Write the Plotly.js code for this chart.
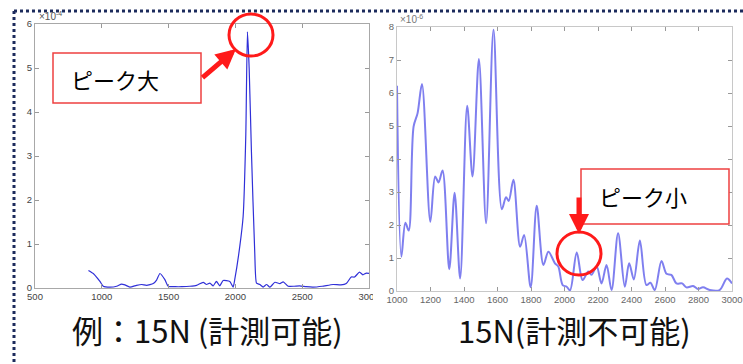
<!DOCTYPE html>
<html><head><meta charset="utf-8">
<script src="https://cdn.plot.ly/plotly-3.0.1.min.js"></script>
<style>html,body{margin:0;padding:0;background:#fff}#chart{width:743px;height:364px}</style>
</head><body><div id="chart"></div>
<script>
// Left spectrum (values in units of 1e-4)
const leftX = [900,936,986,1011,1061,1111,1148,1173,1210,1260,1298,1335,1385,1410,1435,1472,1497,1550,1600,1659,1709,1759,1784,1809,1834,1858,1883,1908,1958,1983,1995,2033,2058,2078,2090,2103,2120,2145,2158,2183,2208,2233,2258,2296,2333,2358,2396,2440,2481,2530,2581,2650,2731,2790,2830,2867,2892,2929,2954,2980,3000];
const leftY = [0.40,0.33,0.15,0.04,0.02,0.04,0.09,0.07,0.02,0.06,0.08,0.06,0.10,0.18,0.33,0.19,0.04,0.03,0.03,0.04,0.06,0.13,0.08,0.11,0.05,0.15,0.05,0.17,0.15,0.02,0.19,0.95,1.63,3.5,5.82,5.0,3.1,0.79,0.11,0.08,0.02,0.08,0.02,0.13,0.10,0.14,0.04,0.04,0.05,0.03,0.02,0.04,0.08,0.07,0.10,0.25,0.25,0.36,0.30,0.34,0.33];
// Right spectrum (values in units of 1e-6)
const rightX = [1000,1026,1050,1070,1099,1123,1149,1199,1228,1248,1272,1312,1344,1377,1419,1451,1489,1532,1576,1626,1651,1667,1695,1735,1759,1798,1834,1874,1904,1943,1963,1989,2013,2033,2073,2108,2142,2161,2192,2221,2251,2281,2320,2360,2386,2414,2450,2489,2513,2539,2579,2609,2638,2668,2702,2728,2768,2797,2827,2867,2926,2970,3000];
const rightY = [6.22,1.04,2.07,1.83,4.98,5.39,6.27,2.10,3.47,3.29,3.65,0.66,2.98,0.38,5.61,3.47,7.03,2.05,7.92,2.48,2.84,2.73,3.37,1.34,1.70,0.11,2.58,0.79,1.19,0.84,0.74,0.18,0.13,0.02,1.17,0.33,0.59,0.49,0.74,0.23,0.79,0.03,1.75,0.13,0.84,0.35,1.53,0.18,0.25,0.03,0.91,0.52,0.49,0.23,0.23,0.11,0.15,0.06,0.11,0.03,0.03,0.38,0.23];
const leftTicksX = [500,1000,1500,2000,2500,3000];
const leftTicksY = [0,1,2,3,4,5,6];
const rightTicksX = [1000,1200,1400,1600,1800,2000,2200,2400,2600,2800,3000];
const rightTicksY = [0,1,2,3,4,5,6,7,8];

const W = 743, H = 364;
const px = x => x / W, py = y => 1 - y / H;
const tickFont = {family:'Liberation Sans, Arial, sans-serif', size:9.5, color:'#444'};
function axisBase(extra){
  return Object.assign({showgrid:false, zeroline:false, showline:true, mirror:'ticks',
    ticks:'inside', ticklen:4, tickcolor:'#999', linecolor:'#a8a8a8', linewidth:1,
    tickfont:tickFont, fixedrange:true}, extra);
}
const traces = [
  {x:leftX, y:leftY, xaxis:'x', yaxis:'y', type:'scatter', mode:'lines',
   line:{color:'#3030d8', width:1.2, shape:'spline', smoothing:0.5}, hoverinfo:'skip'},
  {x:rightX, y:rightY, xaxis:'x2', yaxis:'y2', type:'scatter', mode:'lines',
   line:{color:'rgba(95,95,235,0.8)', width:2, shape:'spline', smoothing:0.9}, hoverinfo:'skip'}
];
const red = '#ff1a1a';
function txt(x, y, text, size, color, extra){
  return Object.assign({xref:'paper', yref:'paper', x:px(x), y:py(y), xanchor:'center', yanchor:'middle',
    showarrow:false, text:text, font:{family:'Noto Sans CJK JP', size:size, color:color}}, extra||{});
}
const layout = {
  width:W, height:H, margin:{l:0,r:0,t:0,b:0}, showlegend:false,
  paper_bgcolor:'#fff', plot_bgcolor:'#fff',
  xaxis: axisBase({domain:[px(35),px(369)], range:[500,3000], tickvals:leftTicksX, anchor:'y'}),
  yaxis: axisBase({domain:[py(288),py(24)], range:[0,6], tickvals:leftTicksY, anchor:'x'}),
  xaxis2: axisBase({domain:[px(397),px(732)], range:[1000,3000], tickvals:rightTicksX, anchor:'y2', linecolor:'#c8c8c8', tickfont:Object.assign({},tickFont,{color:'#666'})}),
  yaxis2: axisBase({domain:[py(291),py(27)], range:[0,8], tickvals:rightTicksY, anchor:'x2', linecolor:'#c8c8c8', tickfont:Object.assign({},tickFont,{color:'#666'})}),
  shapes: [
    {type:'rect', xref:'paper', yref:'paper', x0:px(373), x1:px(386), y0:py(303), y1:py(290), fillcolor:'#fff', line:{width:0}, layer:'above'},
    {type:'line', xref:'paper', yref:'paper', x0:px(14), x1:px(743), y0:py(11), y1:py(11), line:{color:'#1c2b5c', width:3, dash:'dot'}},
    {type:'line', xref:'paper', yref:'paper', x0:px(14), x1:px(14), y0:py(11), y1:py(364), line:{color:'#1c2b5c', width:3, dash:'dot'}},
    {type:'rect', xref:'paper', yref:'paper', x0:px(53), x1:px(201), y0:py(103), y1:py(53), fillcolor:'#fff', line:{color:'#ee4040', width:1.5}, layer:'above'},
    {type:'rect', xref:'paper', yref:'paper', x0:px(581), x1:px(729), y0:py(224), y1:py(169), fillcolor:'#fff', line:{color:'#ee4040', width:1.5}, layer:'above'},
    {type:'circle', xref:'paper', yref:'paper', x0:px(229), x1:px(273), y0:py(56), y1:py(14), line:{color:red, width:3}, layer:'above'},
    {type:'circle', xref:'paper', yref:'paper', x0:px(557), x1:px(601), y0:py(275), y1:py(232), line:{color:red, width:3}, layer:'above'}
  ],
  annotations: [
    {xref:'paper', yref:'paper', x:px(37), y:py(24), xanchor:'left', yanchor:'bottom', showarrow:false,
     text:'×10<sup>-4</sup>', font:{family:'Liberation Sans, Arial', size:10, color:'#555'}},
    {xref:'paper', yref:'paper', x:px(398), y:py(27), xanchor:'left', yanchor:'bottom', showarrow:false,
     text:'×10<sup>-6</sup>', font:{family:'Liberation Sans, Arial', size:10, color:'#777'}},
    txt(115, 79, 'ピーク大', 22, '#000'),
    txt(643, 196, 'ピーク小', 22, '#000'),
    {xref:'paper', yref:'paper', x:px(236), y:py(49), ax:-35, ay:30, showarrow:true, text:'',
     arrowhead:2, arrowsize:0.8, arrowwidth:5, arrowcolor:red},
    {xref:'paper', yref:'paper', x:px(579), y:py(234), ax:0, ay:-38, showarrow:true, text:'',
     arrowhead:2, arrowsize:0.8, arrowwidth:5, arrowcolor:red},
    txt(208, 329, '例：15N (計測可能)', 31, '#111'),
    txt(574, 329, '15N(計測不可能)', 31, '#111')
  ]
};
Plotly.newPlot('chart', traces, layout, {staticPlot:true, displayModeBar:false});
</script></body></html>
